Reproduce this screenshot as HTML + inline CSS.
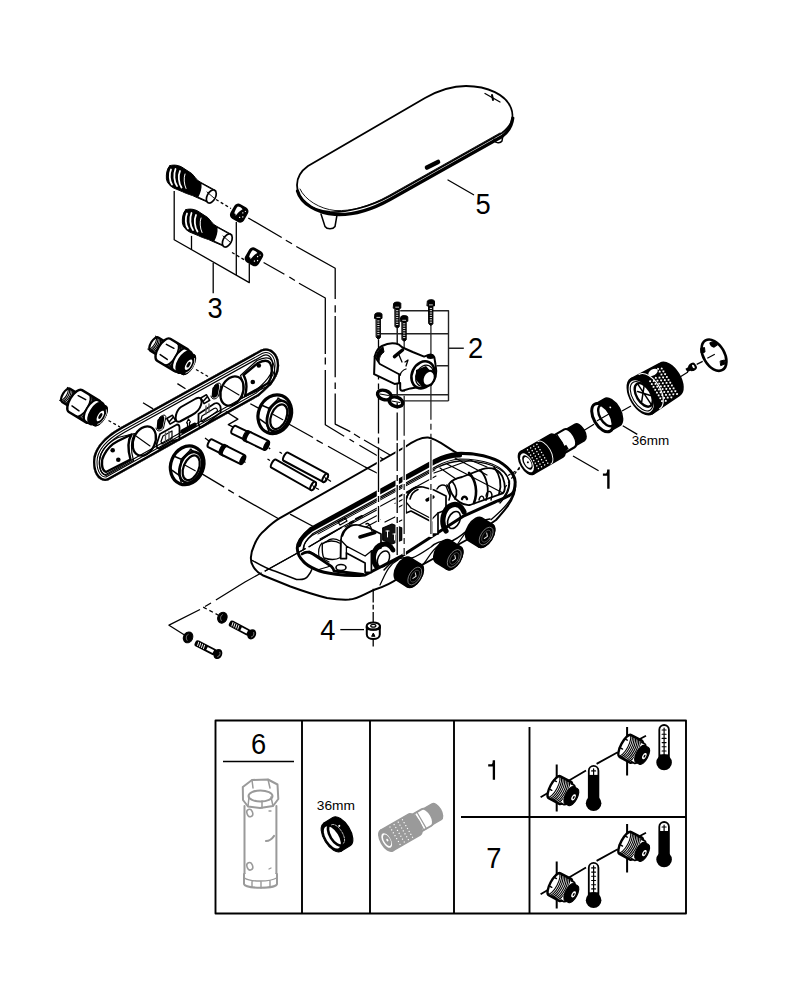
<!DOCTYPE html>
<html><head><meta charset="utf-8">
<style>
html,body{margin:0;padding:0;background:#fff;width:792px;height:1000px;overflow:hidden}
svg{display:block}
text{font-family:"Liberation Sans",sans-serif;fill:#000;stroke:none}
</style></head><body>
<svg width="792" height="1000" viewBox="0 0 792 1000" fill="none" stroke="#000" stroke-linecap="round" stroke-linejoin="round">
<g>
<text transform="translate(483,214) scale(0.91,1)" font-size="30" text-anchor="middle">5</text>
<text transform="translate(215.2,317.5) scale(0.91,1)" font-size="30" text-anchor="middle">3</text>
<text transform="translate(475.6,357.6) scale(0.91,1)" font-size="30" text-anchor="middle">2</text>
<path d="M602.9,474.6 L606.8,474.6 Q608.4,473.5 608.4,469.5 L608.4,488.8" stroke-width="2.4" stroke-linecap="butt" stroke-linejoin="miter"/>
<text transform="translate(327.9,639.6) scale(0.91,1)" font-size="30" text-anchor="middle">4</text>
<text x="631.8" y="444.9" font-size="13.3" textLength="37.4" lengthAdjust="spacingAndGlyphs">36mm</text>
</g>

<g stroke-width="1.9" stroke-linecap="butt">
<rect x="215.5" y="720.5" width="470.5" height="193"/>
<line x1="302" y1="720.5" x2="302" y2="913.5"/>
<line x1="370" y1="720.5" x2="370" y2="913.5"/>
<line x1="454" y1="720.5" x2="454" y2="913.5"/>
<line x1="529.5" y1="727" x2="529.5" y2="913.5"/>
<line x1="461" y1="817" x2="686" y2="817"/>
<line x1="223" y1="761.5" x2="294" y2="761.5" stroke-width="1.3"/>
</g>
<g>
<text transform="translate(258.7,753.5) scale(0.91,1)" font-size="30" text-anchor="middle">6</text>
<path d="M488.2,765.3 L492.3,765.3 Q493.9,764.3 493.9,760.3 L493.9,779.8" stroke-width="2.3" stroke-linecap="butt" stroke-linejoin="miter" fill="none"/>
<text transform="translate(493.8,867.5) scale(0.91,1)" font-size="30" text-anchor="middle">7</text>
<text x="316.8" y="809.8" font-size="13.3" textLength="38.2" lengthAdjust="spacingAndGlyphs">36mm</text>
</g>

<g stroke-width="1.8">
<path d="M321,214 L325,226.5 C327,229.5 333,229.5 335,226.5 L337,215" fill="#fff" stroke-width="1.5"/>
<path d="M494,139 C494,143 500,144 502,141 L503,135" fill="#fff" stroke-width="1.5"/>
<path d="M308,166 L425,98 C440,89.5 455,86 466,86 C488,86 506,95 511,108 C515,118 510,127 502,133 L390,196 C370,207 345,213 330,212 C310,210 297,200 297,185 C297,177 301,171 308,166 Z" fill="#fff"/>
<path d="M297.5,191 C301,204 318,213.5 335,214.5 C352,215.5 372,209.5 390,199.5 L502,136.5 C508,132 512,125 512.8,118" stroke-width="3.2"/>
<path d="M300,189 C305,200 320,209 335,210.5 C352,211.5 370,206 388,196 L500,133" stroke-width="0.9"/>
<path d="M427,167.5 L438,162" stroke-width="4.6"/>
<path d="M485,93.5 L500,102" stroke-width="1.3"/>
<path d="M492,95 L493,100" stroke-width="2"/>
<path d="M448,180 L473.6,194.7" stroke-width="1.3"/>
</g>

<g id="fit3">
<path d="M169.8,165.7 C175,164 180,166 182,167.2 L191.8,173.6 C195,177 196,179 197.9,180.5 L201,182.5 L216,190.7 L210,203.2 L197.5,197.8 L192.6,195.6 C188,194 185,193 182.7,191.8 L173.6,188 C170,186 167,183 166.4,178.9 C166,174 167,168 169.8,165.7 Z" fill="#000" stroke-width="1"/>
<path d="M201.5,184 L215,191.5 C216.5,194 213.5,201.5 210,202 L198.5,196.8 C200.5,193 202,188 201.5,184 Z" fill="#fff" stroke="none"/>
<ellipse cx="211.3" cy="196.5" rx="4.2" ry="7" transform="rotate(28 211.3 196.5)" fill="#fff" stroke-width="1.7"/>
<path d="M207,192 L214,198" stroke-width="0.9"/>
<path d="M171,169.5 C169,174 169.5,181 172,184.5" stroke="#fff" stroke-width="1.8"/>
<path d="M175.5,169 C173.5,174 174,182 177,186" stroke="#fff" stroke-width="1.8"/>
<path d="M180,171 C178,175.5 178.5,183 181.5,187.5" stroke="#fff" stroke-width="1.8"/>
<path d="M185,174 C183.5,178 184,184 186,188.5" stroke="#fff" stroke-width="1"/>
</g>
<use href="#fit3" transform="translate(16,44)"/>
<g id="nut3" transform="translate(239.2,213.1) rotate(30)">
<rect x="-7.8" y="-8.4" width="15.6" height="16.8" rx="4.5" fill="#000" stroke="none"/>
<path d="M-4.5,-5 C-3,-5.8 -0.5,-5.8 1,-5 C-0.5,-2.5 -1.2,0 -1.8,4 C-2.6,2.5 -3.2,1.8 -4,3 C-5,0.5 -5,-3 -4.5,-5 Z" fill="#fff" stroke="none"/>
<circle cx="3" cy="-2" r="0.7" fill="#fff" stroke="none"/>
<circle cx="5" cy="1.5" r="0.7" fill="#fff" stroke="none"/>
<circle cx="2.5" cy="3.5" r="0.7" fill="#fff" stroke="none"/>
<circle cx="4.5" cy="-4.5" r="0.6" fill="#fff" stroke="none"/>
</g>
<use href="#nut3" transform="translate(14.8,43.7)"/>
<g stroke-width="1.3" stroke-linecap="butt">
<path d="M174.2,191 L174.2,239.7 L249.3,282.6 L249.3,263.7"/>
<path d="M191.5,235.9 L191.5,249.5"/>
<path d="M236.3,222 L236.3,275"/>
<path d="M213.2,263 L213.2,293.3"/>
<path d="M216,199.5 L231,208.5" stroke-dasharray="3 2.5"/>
<path d="M232,252.5 L245.5,260.5" stroke-dasharray="3 2.5"/>
<path d="M248.3,218 L281.7,237.5 M285.8,240.3 L292,243.8 M296.3,246.5 L335.2,268.3 L335.2,299 M335.2,305.3 L335.2,312.5 M335.2,316 L335.2,377.2 M335.2,382.6 L335.2,389 M335.2,393.4 L335.2,424.1 L350.3,431.7 M354,434 L360,437.7 M364,440 L390,455"/>
<path d="M263.6,262.5 L284.4,274.3 M289.3,277 L294.9,280.5 M299,283.3 L325.3,298 L325.3,353.9 M325.3,357.4 L325.3,364.6 M325.3,370 L325.3,424.8 L344.2,436.2 M349.5,439.2 L354,442 M359.4,445.3 L383,459"/>
</g>

<defs>
<path id="bpo" d="M121,427 L261,349.5 C268,346.5 276,350 278.5,360 C281,372 276,382 259,396 L108,480.5 C100,483 93,475 93,462 C93,448 105,436 121,427 Z"/>
<clipPath id="bpc"><use href="#bpo"/></clipPath>
</defs>
<use href="#bpo" fill="#fff" stroke="none"/>
<g clip-path="url(#bpc)">
<use href="#bpo" stroke-width="14"/>
<use href="#bpo" stroke="#fff" stroke-width="11.5"/>
<use href="#bpo" stroke-width="9"/>
<use href="#bpo" stroke="#fff" stroke-width="7"/>
<use href="#bpo" stroke-width="4.6"/>
</g>
<g stroke-width="2">
<!-- left D recess -->
<path d="M131.5,434.5 C128,440 127,447 130.5,459.5 L106,472 C101,470 101,460 104,455 C107,449 112,444 118,441 Z" stroke-width="2.4"/>
<path d="M134.5,433.5 C131,440 130,448 133.5,460.5 L106,475.5 C99,474 98,462 101,454 C104,447 111,441 118,437.5 Z" stroke-width="1.2"/>
<circle cx="112.7" cy="450.3" r="2.3" fill="#000" stroke="none"/>
<circle cx="118.3" cy="459.8" r="2.3" fill="#000" stroke="none"/>
<!-- right D recess -->
<path d="M243.5,375 C247,381 247,389 245,396 L268.5,383 C272,377 273,368 270,363 C268,360 264,360 258,363 Z" stroke-width="2.4"/>
<path d="M240.5,375.5 C244,382 244,390 242,398 L270.5,385 C275,379 276,368 272.5,361.5 C270,357 264,357 257,360.5 Z" stroke-width="1.2"/>
<circle cx="258.8" cy="365.5" r="2.3" fill="#000" stroke="none"/>
<circle cx="252.8" cy="382" r="2.3" fill="#000" stroke="none"/>
<!-- oval holes -->
<ellipse cx="144.3" cy="441" rx="10.8" ry="15.3" transform="rotate(24 144.3 441)" stroke-width="2.3"/>
<ellipse cx="232" cy="391" rx="10.8" ry="15.3" transform="rotate(24 232 391)" stroke-width="2.3"/>
<path d="M136,436 L150,446 M224,386 L239,395" stroke-width="1.1"/>
<!-- middle slot -->
<path d="M181,407 L196,398.5 C201,396 202.5,400 201,405 C199.5,410 196,413 192,415 L180,421.5 C176,423 175,419 176,415 C177,411 178,409 181,407 Z" stroke-width="2"/>
<!-- small squares -->
<rect x="168" y="416.5" width="6.5" height="6.5" transform="rotate(-30 171.2 419.7)" stroke-width="1.6"/>
<rect x="202" y="396" width="6.5" height="6.5" transform="rotate(-30 205.2 399.2)" stroke-width="1.6"/>
<path d="M169.5,421.5 L173,417.5 M203.5,401 L207,397" stroke-width="1.5"/>
<!-- slanted slots -->
<path d="M158,420.5 C161,416 164,415 163.5,419 L162,427 C160,430 157,430 157.5,426 Z" fill="#000" stroke-width="1.4"/>
<path d="M159.5,417.5 C163,414 167,414 165.5,419 L163.5,428 C161,432 156.5,432 156,428" stroke-width="1"/>
<path d="M213,388.5 C216,384 219,383 218.5,387 L217,395 C215,398 212,398 212.5,394 Z" fill="#000" stroke-width="1.4"/>
<path d="M214.5,385.5 C218,382 222,382 220.5,387 L218.5,396 C216,400 211.5,400 211,396" stroke-width="1"/>
<!-- lower features -->
<path d="M182.5,431.5 L194.5,425" stroke-width="4.6"/>
<path d="M186.5,423 L188.5,419 L190.5,422 L189.5,422.5 L189.5,426 L187.5,427 L187.5,423 Z" stroke-width="1.2"/>
<path d="M157,443 L160,434 L177,424.5 C179,424.5 179.5,426 179.5,427.5 L179.5,439.5 L172,441 L159.5,448.5 C157,449 156,446 157,443 Z" stroke-width="1.8"/>
<path d="M161,441.5 L163,436 L172,431 L172,438.5 L162,444 Z" stroke-width="1.2"/>
<path d="M165.5,433 L165.5,441 M169,431.5 L169,439" stroke-width="1.3" stroke="#555"/>
<path d="M198.5,414 L214.6,403.5 C218,402 220.7,405 220.7,408.5 L220.7,412.4 L202.5,426.6 C200,427.5 198.5,426 198.5,424 Z" stroke-width="1.8"/>
<path d="M202,416 L214,408.5 C216.5,407.5 217.5,409 217.5,411 L203,421.5 C201.5,422 201,421 201,420 Z" stroke-width="1.2"/>
<path d="M206,406 L206,414 M209,404 L209,412" stroke-width="1.3" stroke="#555"/>
</g>

<g transform="translate(99.5,415.5) rotate(31)">
<path d="M-39,-7.8 L-26,-7.8 A3.51,7.8 0 0 1 -26,7.8 L-39,7.8 A3.51,7.8 0 0 1 -39,-7.8 Z" fill="#fff" stroke-width="2.2"/>
<path d="M-42.0,-7.5 A3.4,7.5 0 0 1 -42.0,7.5" stroke-width="1.1"/>
<path d="M-40.4,-7.5 A3.4,7.5 0 0 1 -40.4,7.5" stroke-width="1.1"/>
<path d="M-38.8,-7.5 A3.4,7.5 0 0 1 -38.8,7.5" stroke-width="1.1"/>
<path d="M-37.2,-7.5 A3.4,7.5 0 0 1 -37.2,7.5" stroke-width="1.1"/>
<path d="M-35.6,-7.5 A3.4,7.5 0 0 1 -35.6,7.5" stroke-width="1.1"/>
<path d="M-34.0,-7.5 A3.4,7.5 0 0 1 -34.0,7.5" stroke-width="1.1"/>
<path d="M-32.4,-7.5 A3.4,7.5 0 0 1 -32.4,7.5" stroke-width="1.1"/>
<path d="M-30.799999999999997,-7.5 A3.4,7.5 0 0 1 -30.799999999999997,7.5" stroke-width="1.1"/>
<path d="M-29.2,-7.5 A3.4,7.5 0 0 1 -29.2,7.5" stroke-width="1.1"/>
<path d="M-28,-12.8 L-8,-12.8 A5.760000000000001,12.8 0 0 1 -8,12.8 L-28,12.8 A5.760000000000001,12.8 0 0 1 -28,-12.8 Z" fill="#fff" stroke-width="2.4"/>
<path d="M-28.5,-6 L-20,-6.5 M-28.5,6 L-20,6.5" stroke-width="1.5"/>
<path d="M-20,-12.6 A5.6,12.6 0 0 1 -20,12.6" stroke-width="1.5"/>
<path d="M-19.0,-12.5 A5.6,12.5 0 0 1 -19.0,12.5" stroke-width="1.05"/>
<path d="M-17.55,-12.5 A5.6,12.5 0 0 1 -17.55,12.5" stroke-width="1.05"/>
<path d="M-16.1,-12.5 A5.6,12.5 0 0 1 -16.1,12.5" stroke-width="1.05"/>
<path d="M-14.65,-12.5 A5.6,12.5 0 0 1 -14.65,12.5" stroke-width="1.05"/>
<path d="M-13.2,-12.5 A5.6,12.5 0 0 1 -13.2,12.5" stroke-width="1.05"/>
<path d="M-11.75,-12.5 A5.6,12.5 0 0 1 -11.75,12.5" stroke-width="1.05"/>
<path d="M-10.3,-12.5 A5.6,12.5 0 0 1 -10.3,12.5" stroke-width="1.05"/>
<path d="M-8.85,-12.5 A5.6,12.5 0 0 1 -8.85,12.5" stroke-width="1.05"/>
<path d="M-9,-12.3 L-4,-12.3 A5.535,12.3 0 0 1 -4,12.3 L-9,12.3 A5.535,12.3 0 0 1 -9,-12.3 Z" fill="#fff" stroke-width="2.0"/>
<path d="M-5,-11.3 L0.5,-11.3 A5.085000000000001,11.3 0 0 1 0.5,11.3 L-5,11.3 A5.085000000000001,11.3 0 0 1 -5,-11.3 Z" fill="#000" stroke-width="1.5"/>
<ellipse cx="0.5" cy="0" rx="5.085000000000001" ry="11.3" fill="#000" stroke-width="1.5"/>
<ellipse cx="1" cy="0" rx="2.6" ry="6" fill="#fff" stroke="none"/>
<ellipse cx="1" cy="0" rx="1.4" ry="3.2" fill="#000" stroke="none"/>
<path d="M3,-8.5 A4,9 0 0 1 3,8.5" stroke="#fff" stroke-width="0.7"/>
</g>
<g transform="translate(187.7,364.2) rotate(31)">
<path d="M-39,-7.8 L-26,-7.8 A3.51,7.8 0 0 1 -26,7.8 L-39,7.8 A3.51,7.8 0 0 1 -39,-7.8 Z" fill="#fff" stroke-width="2.2"/>
<path d="M-42.0,-7.5 A3.4,7.5 0 0 1 -42.0,7.5" stroke-width="1.1"/>
<path d="M-40.4,-7.5 A3.4,7.5 0 0 1 -40.4,7.5" stroke-width="1.1"/>
<path d="M-38.8,-7.5 A3.4,7.5 0 0 1 -38.8,7.5" stroke-width="1.1"/>
<path d="M-37.2,-7.5 A3.4,7.5 0 0 1 -37.2,7.5" stroke-width="1.1"/>
<path d="M-35.6,-7.5 A3.4,7.5 0 0 1 -35.6,7.5" stroke-width="1.1"/>
<path d="M-34.0,-7.5 A3.4,7.5 0 0 1 -34.0,7.5" stroke-width="1.1"/>
<path d="M-32.4,-7.5 A3.4,7.5 0 0 1 -32.4,7.5" stroke-width="1.1"/>
<path d="M-30.799999999999997,-7.5 A3.4,7.5 0 0 1 -30.799999999999997,7.5" stroke-width="1.1"/>
<path d="M-29.2,-7.5 A3.4,7.5 0 0 1 -29.2,7.5" stroke-width="1.1"/>
<path d="M-28,-12.8 L-8,-12.8 A5.760000000000001,12.8 0 0 1 -8,12.8 L-28,12.8 A5.760000000000001,12.8 0 0 1 -28,-12.8 Z" fill="#fff" stroke-width="2.4"/>
<path d="M-28.5,-6 L-20,-6.5 M-28.5,6 L-20,6.5" stroke-width="1.5"/>
<path d="M-20,-12.6 A5.6,12.6 0 0 1 -20,12.6" stroke-width="1.5"/>
<path d="M-19.0,-12.5 A5.6,12.5 0 0 1 -19.0,12.5" stroke-width="1.05"/>
<path d="M-17.55,-12.5 A5.6,12.5 0 0 1 -17.55,12.5" stroke-width="1.05"/>
<path d="M-16.1,-12.5 A5.6,12.5 0 0 1 -16.1,12.5" stroke-width="1.05"/>
<path d="M-14.65,-12.5 A5.6,12.5 0 0 1 -14.65,12.5" stroke-width="1.05"/>
<path d="M-13.2,-12.5 A5.6,12.5 0 0 1 -13.2,12.5" stroke-width="1.05"/>
<path d="M-11.75,-12.5 A5.6,12.5 0 0 1 -11.75,12.5" stroke-width="1.05"/>
<path d="M-10.3,-12.5 A5.6,12.5 0 0 1 -10.3,12.5" stroke-width="1.05"/>
<path d="M-8.85,-12.5 A5.6,12.5 0 0 1 -8.85,12.5" stroke-width="1.05"/>
<path d="M-9,-12.3 L-4,-12.3 A5.535,12.3 0 0 1 -4,12.3 L-9,12.3 A5.535,12.3 0 0 1 -9,-12.3 Z" fill="#fff" stroke-width="2.0"/>
<path d="M-5,-11.3 L0.5,-11.3 A5.085000000000001,11.3 0 0 1 0.5,11.3 L-5,11.3 A5.085000000000001,11.3 0 0 1 -5,-11.3 Z" fill="#000" stroke-width="1.5"/>
<ellipse cx="0.5" cy="0" rx="5.085000000000001" ry="11.3" fill="#000" stroke-width="1.5"/>
<ellipse cx="1" cy="0" rx="2.6" ry="6" fill="#fff" stroke="none"/>
<ellipse cx="1" cy="0" rx="1.4" ry="3.2" fill="#000" stroke="none"/>
<path d="M3,-8.5 A4,9 0 0 1 3,8.5" stroke="#fff" stroke-width="0.7"/>
</g>
<g transform="translate(187.2,465.3)">
<ellipse cx="0" cy="0" rx="16.3" ry="19.8" transform="rotate(22)" fill="#fff" stroke-width="3.2"/>
<path d="M-13,-9 L-6,-6 L4,-16 M-6,-6 L-8,10 L-6,17 M-15,5 L-8,10 M3,-16 L10,-12" stroke-width="1.5"/>
<ellipse cx="3.5" cy="2" rx="10.5" ry="16" transform="rotate(22 3.5 2)" stroke-width="2.6"/>
<ellipse cx="4" cy="2.5" rx="7.6" ry="13" transform="rotate(22 4 2.5)" stroke-width="2.2"/>
<path d="M-2,0 L8,5.5" stroke-width="1.2"/>
</g>
<g transform="translate(274.8,414.2)">
<ellipse cx="0" cy="0" rx="16.3" ry="19.8" transform="rotate(22)" fill="#fff" stroke-width="3.2"/>
<path d="M-13,-9 L-6,-6 L4,-16 M-6,-6 L-8,10 L-6,17 M-15,5 L-8,10 M3,-16 L10,-12" stroke-width="1.5"/>
<ellipse cx="3.5" cy="2" rx="10.5" ry="16" transform="rotate(22 3.5 2)" stroke-width="2.6"/>
<ellipse cx="4" cy="2.5" rx="7.6" ry="13" transform="rotate(22 4 2.5)" stroke-width="2.2"/>
<path d="M-2,0 L8,5.5" stroke-width="1.2"/>
</g>
<g transform="translate(233.8,429.7) rotate(25.85)">
<path d="M0,-4.3 L36.003472054789356,-4.3 A1.8059999999999998,4.3 0 0 1 36.003472054789356,4.3 L0,4.3 A1.8059999999999998,4.3 0 0 1 0,-4.3 Z" fill="#fff" stroke-width="2"/>
<path d="M13.62145826301153,-5.5 L16.62145826301153,-5.5 A2.31,5.5 0 0 1 16.62145826301153,5.5 L13.62145826301153,5.5 A2.31,5.5 0 0 1 13.62145826301153,-5.5 Z" fill="#000" stroke-width="1.2"/>
<path d="M16.62145826301153,-5 L36.003472054789356,-5 A2.1,5 0 0 1 36.003472054789356,5 L16.62145826301153,5 A2.1,5 0 0 1 16.62145826301153,-5 Z" fill="#fff" stroke-width="2"/>
<ellipse cx="36.003472054789356" cy="0" rx="2.3" ry="5" fill="#000" stroke="none"/>
</g>
<g transform="translate(210.1,443.3) rotate(26.64)">
<path d="M0,-4.3 L36.13488619049464,-4.3 A1.8059999999999998,4.3 0 0 1 36.13488619049464,4.3 L0,4.3 A1.8059999999999998,4.3 0 0 1 0,-4.3 Z" fill="#fff" stroke-width="2"/>
<path d="M13.676652200007748,-5.5 L16.676652200007748,-5.5 A2.31,5.5 0 0 1 16.676652200007748,5.5 L13.676652200007748,5.5 A2.31,5.5 0 0 1 13.676652200007748,-5.5 Z" fill="#000" stroke-width="1.2"/>
<path d="M16.676652200007748,-5 L36.13488619049464,-5 A2.1,5 0 0 1 36.13488619049464,5 L16.676652200007748,5 A2.1,5 0 0 1 16.676652200007748,-5 Z" fill="#fff" stroke-width="2"/>
<ellipse cx="36.13488619049464" cy="0" rx="2.3" ry="5" fill="#000" stroke="none"/>
</g>
<g transform="translate(285.8,456.7) rotate(28.28)">
<path d="M0,-4.6 L44.74147963579208,-4.6 A1.9319999999999997,4.6 0 0 1 44.74147963579208,4.6 L0,4.6 A1.9319999999999997,4.6 0 0 1 0,-4.6 Z" fill="#fff" stroke-width="2"/>
<ellipse cx="44.74147963579208" cy="0" rx="2" ry="4.6" fill="#fff" stroke-width="2"/>
<path d="M43.24147963579208,-1 L46.24147963579208,1" stroke-width="1"/>
</g>
<g transform="translate(273.7,463.7) rotate(29.51)">
<path d="M0,-4.6 L45.27306042228649,-4.6 A1.9319999999999997,4.6 0 0 1 45.27306042228649,4.6 L0,4.6 A1.9319999999999997,4.6 0 0 1 0,-4.6 Z" fill="#fff" stroke-width="2"/>
<ellipse cx="45.27306042228649" cy="0" rx="2" ry="4.6" fill="#fff" stroke-width="2"/>
<path d="M43.77306042228649,-1 L46.77306042228649,1" stroke-width="1"/>
</g>
<g stroke-width="1.3" stroke-linecap="butt">
<path d="M108.5,420.5 L120,427" stroke-dasharray="3 2.5"/>
<path d="M196,369.5 L208,376.5" stroke-dasharray="3 2.5"/>
<path d="M225.8,411.5 L237.9,419.1 L228.3,424.6 L233.3,427.2"/>
<path d="M268.7,447.9 L270.2,448.9 M244,461.5 L245.5,462.5 M205,438 L209,441"/>
<path d="M250.3,403.7 L259,408.4 M143,402.8 L153.1,408.9 M177.4,383.6 L185.5,388.7"/>
<path d="M202,473.9 L224.2,487.1 M228.3,489.9 L233.9,493.3 M238.75,496.1 L279,519"/>
<path d="M289.2,424.2 L313,437.5 M316.6,440.1 L322.8,443.5 M328,446.3 L366,467.5"/>
<path d="M279.5,452 L282,453.5 M267.5,459 L270,460.5 M328,479.5 L331,481.5 M316,488 L319,489.5"/>
</g>
<g stroke-linecap="butt">
<path d="M378.5,339.4 L378.5,470" stroke-width="1.3" stroke-dasharray="40 4 6 4"/>
<path d="M397.2,328.6 L397.2,470" stroke-width="1.3" stroke-dasharray="28 4 6 4"/>
<path d="M404.2,341.7 L404.2,470" stroke="#444" stroke-width="1.5" stroke-dasharray="40 4 6 4"/>
<path d="M430.9,325.8 L430.9,470" stroke="#444" stroke-width="1.5" stroke-dasharray="40 4 6 4"/>
</g>

<g stroke-width="1.4" stroke-linecap="butt" stroke="#222">
<path d="M400.2,310.8 L448.5,310.8 L448.5,400.9 M380.9,333.75 L448.5,333.75 M436.6,365.7 L448.5,365.7 M448.5,348.2 L463.8,348.2 M391.7,394.7 L448.5,394.7 M402.5,400.9 L448.5,400.9"/>
</g>
<path d="M374.79999999999995,314.2 C374.79999999999995,312.2 382.0,312.2 382.0,314.2 L382.0,318.4 L374.79999999999995,318.4 Z" fill="#000" stroke-width="1"/>
<path d="M376.4,318.4 L380.4,318.4 L380.4,337.4 L378.4,339.4 L376.4,337.4 Z" fill="#000" stroke-width="1"/>
<path d="M376.9,317.4 L379.9,317.4" stroke="#fff" stroke-width="0.8"/>
<path d="M377.7,320.9 L379.09999999999997,320.9" stroke="#fff" stroke-width="0.9"/>
<path d="M377.7,323.2 L379.09999999999997,323.2" stroke="#fff" stroke-width="0.9"/>
<path d="M377.7,325.5 L379.09999999999997,325.5" stroke="#fff" stroke-width="0.9"/>
<path d="M377.7,327.8 L379.09999999999997,327.8" stroke="#fff" stroke-width="0.9"/>
<path d="M377.7,330.1 L379.09999999999997,330.1" stroke="#fff" stroke-width="0.9"/>
<path d="M377.7,332.40000000000003 L379.09999999999997,332.40000000000003" stroke="#fff" stroke-width="0.9"/>
<path d="M377.7,334.70000000000005 L379.09999999999997,334.70000000000005" stroke="#fff" stroke-width="0.9"/>
<path d="M393.59999999999997,303.5 C393.59999999999997,301.5 400.8,301.5 400.8,303.5 L400.8,308.2 L393.59999999999997,308.2 Z" fill="#000" stroke-width="1"/>
<path d="M395.2,308.2 L399.2,308.2 L399.2,326.6 L397.2,328.6 L395.2,326.6 Z" fill="#000" stroke-width="1"/>
<path d="M395.7,307.2 L398.7,307.2" stroke="#fff" stroke-width="0.8"/>
<path d="M396.5,310.7 L397.9,310.7" stroke="#fff" stroke-width="0.9"/>
<path d="M396.5,313.0 L397.9,313.0" stroke="#fff" stroke-width="0.9"/>
<path d="M396.5,315.3 L397.9,315.3" stroke="#fff" stroke-width="0.9"/>
<path d="M396.5,317.6 L397.9,317.6" stroke="#fff" stroke-width="0.9"/>
<path d="M396.5,319.90000000000003 L397.9,319.90000000000003" stroke="#fff" stroke-width="0.9"/>
<path d="M396.5,322.20000000000005 L397.9,322.20000000000005" stroke="#fff" stroke-width="0.9"/>
<path d="M396.5,324.50000000000006 L397.9,324.50000000000006" stroke="#fff" stroke-width="0.9"/>
<path d="M400.59999999999997,317.1 C400.59999999999997,315.1 407.8,315.1 407.8,317.1 L407.8,321.3 L400.59999999999997,321.3 Z" fill="#000" stroke-width="1"/>
<path d="M402.2,321.3 L406.2,321.3 L406.2,339.7 L404.2,341.7 L402.2,339.7 Z" fill="#000" stroke-width="1"/>
<path d="M402.7,320.3 L405.7,320.3" stroke="#fff" stroke-width="0.8"/>
<path d="M403.5,323.8 L404.9,323.8" stroke="#fff" stroke-width="0.9"/>
<path d="M403.5,326.1 L404.9,326.1" stroke="#fff" stroke-width="0.9"/>
<path d="M403.5,328.40000000000003 L404.9,328.40000000000003" stroke="#fff" stroke-width="0.9"/>
<path d="M403.5,330.70000000000005 L404.9,330.70000000000005" stroke="#fff" stroke-width="0.9"/>
<path d="M403.5,333.00000000000006 L404.9,333.00000000000006" stroke="#fff" stroke-width="0.9"/>
<path d="M403.5,335.30000000000007 L404.9,335.30000000000007" stroke="#fff" stroke-width="0.9"/>
<path d="M403.5,337.6000000000001 L404.9,337.6000000000001" stroke="#fff" stroke-width="0.9"/>
<path d="M427.29999999999995,301.2 C427.29999999999995,299.2 434.5,299.2 434.5,301.2 L434.5,305.9 L427.29999999999995,305.9 Z" fill="#000" stroke-width="1"/>
<path d="M428.9,305.9 L432.9,305.9 L432.9,323.8 L430.9,325.8 L428.9,323.8 Z" fill="#000" stroke-width="1"/>
<path d="M429.4,304.9 L432.4,304.9" stroke="#fff" stroke-width="0.8"/>
<path d="M430.2,308.4 L431.59999999999997,308.4" stroke="#fff" stroke-width="0.9"/>
<path d="M430.2,310.7 L431.59999999999997,310.7" stroke="#fff" stroke-width="0.9"/>
<path d="M430.2,313.0 L431.59999999999997,313.0" stroke="#fff" stroke-width="0.9"/>
<path d="M430.2,315.3 L431.59999999999997,315.3" stroke="#fff" stroke-width="0.9"/>
<path d="M430.2,317.6 L431.59999999999997,317.6" stroke="#fff" stroke-width="0.9"/>
<path d="M430.2,319.90000000000003 L431.59999999999997,319.90000000000003" stroke="#fff" stroke-width="0.9"/>
<path d="M430.2,322.20000000000005 L431.59999999999997,322.20000000000005" stroke="#fff" stroke-width="0.9"/>
<g stroke-width="1.8">
<path d="M374.7,356.6 C376,351 378,348 382,346 C388,343 395,343 399.1,344.7 L402.5,347.5 L412.7,352 L424.1,356.6 L428.6,354.9 C431,354 433,355 434.3,357.2 L435.5,364.5 C437,372 436,380 431,385 L410.5,388.4 L402.5,390.7 C400.5,390.5 400.2,389.5 400.2,388.4 L400.2,383 L394.5,383.9 L374.1,374.2 Z" fill="#fff" stroke-width="2"/>
<path d="M379.8,364 L399.1,374.2 L400.2,374.8 M379.8,364 L374.7,356.6 M399.1,374.2 L399.1,383"/>
<path d="M376,357 C377,352 379,349 383,347 L384,352 C381,354 379,357 379,362 Z" fill="#000" stroke-width="1"/>
<path d="M394.5,356.6 L402.5,350" stroke-width="3.5"/>
<path d="M400.2,374.8 C401,372 403,370 406,369 M405,362 L408,360 L406,366 M399,355 L402,362" stroke-width="1.3"/>
<ellipse cx="423" cy="374.8" rx="11" ry="14" transform="rotate(25 423 374.8)" fill="#fff" stroke-width="2.6"/>
<ellipse cx="424.5" cy="375.8" rx="8.5" ry="11" transform="rotate(25 424.5 375.8)" stroke-width="1.2"/>
<path d="M416,370 L426,366 L433,374 L433,384 L423,388 L416,380 Z" fill="#000" stroke="none" transform="rotate(0)"/>
<ellipse cx="428.7" cy="378.3" rx="5.6" ry="7.8" transform="rotate(25 428.7 378.3)" fill="#fff" stroke-width="2"/>
<ellipse cx="430.5" cy="356.5" rx="4" ry="2.5" fill="#000" stroke="none"/>
</g>
<ellipse cx="384.3" cy="395" rx="7" ry="4.6" transform="rotate(18 384.3 395)" fill="none" stroke-width="3.4"/>
<ellipse cx="396" cy="401.8" rx="7" ry="4.6" transform="rotate(18 396 401.8)" fill="none" stroke-width="3.4"/>
<path d="M380,394 L388.5,395.5 M391.5,401 L400,402.5" stroke-width="1"/>
<g stroke-width="2">
<path d="M279.8,518.2 L405,447 C412,442 420,437 428,437.5 C436,438 446,447 457,453 C470,452 488,456 503,464 C512,470 517,480 514,494 C511,503 505,510 496,520 L470,538 L431,560 L400,577 C392,583 383,587 375,589.5 C366,593 358,599 349,599.6 C340,600 333,599 327,598 C315,595 300,590 290.4,586.5 L263.2,575.5 C258,573 255,570 253,566 C250,562 250,554 254.1,545.5 C257,538 260,534 264.7,530.3 C270,525 275,521 279.8,518.2 Z" fill="#fff"/>
<path d="M252.6,560.6 C262,566 270,570 275.3,571.2 L296.5,579.5 C302,580 306,579 308,576 C311,572 311.7,569.7 311.7,569.7" stroke-width="1.5"/>
<path d="M290.5,514.4 L314.7,527.3 M365.8,467.3 L377,473" stroke-width="1.3"/>
</g>
<path d="M297.3,548.5 C297,543 303,535 310.2,528.8 L434.8,460.3 C443,456 450,454 457.6,453.5 C468,453 476,454 483.3,455.8 C492,458 498,460 503,464.1 C511,470 515,476 515.2,482 C515,488 514,492 512.1,493.6 C508,497 502,499 495,502 L464,515.8 L400.5,556.7 L365,575 C355,576 345,575.5 335.9,574.2 C326,573 320,571.5 316.2,569.7 C310,567 305,563.6 303,561 C300,558 297.5,553 297.3,548.5 Z" fill="#fff" stroke-width="3"/>
<path d="M303,550 C303,545 307,539 313,533.5 L437,466 C446,461 452,459.5 460,459 C472,459 482,460.5 492,464 C502,468 508,474 509,482 C509,490 506,496 499,502" stroke-width="1.2"/>
<path d="M318,534 L435,470" stroke-width="1"/>
<g stroke-width="1.4">
<!-- far rim heavy band -->
<path d="M299,545 C300,540 304,535 311,530 L436,461.5 C444,457.5 452,455.5 460,455.5" stroke-width="4.2"/>
<path d="M304,549 C303,544 306,540 312,535.5 L437,467.5 C446,463 452,461.5 460,461 C472,460.5 482,462 492,465.5 C502,469 508,475 509.5,482.5 C510,490 507,496 500,503" stroke-width="1.3"/>
<path d="M320,539 L436,476" stroke-width="1.1"/>
<!-- back wall hatch -->
<path d="M345,527 L376.8,510 M348,531 L378,515 M351,535 L380,519.5 M395,499 L412,490 M395,503.5 L413,494 M397,508 L414,499" stroke-width="1.1"/>
<path d="M356,519 L362,516 M350,523 L353,521.5" stroke-width="2"/>
<path d="M338,522 L345,518 L347,521 L340,525 Z" stroke-width="1.3"/>
<!-- floor / channel left -->
<path d="M302,554 C306,551 310,552 313,554 L331.4,566.4 C333,568 334,570 334,571 L363,574.5" stroke-width="2.8"/>
<path d="M309,551 L329,562 M318,570 C322,568 326,568 330,566" stroke-width="1.2"/>
<ellipse cx="341" cy="567.5" rx="5" ry="3" stroke-width="1.6"/>
<!-- left saddle boss -->
<path d="M322.3,544 C322,552 322.5,556 324,558 C330,560 336,560 340.5,557.5 L340.5,543.5 C335,540 327,540 322.3,544 Z" fill="#fff" stroke-width="1.4"/>
<path d="M319,557 C318,551 319,546 322,543 M326,542 C330,538 335,538 340,541" stroke-width="1.2"/>
<!-- valve 1 body -->
<path d="M341,540 C341,531 349,524 358,525 L369,528 L381,534 L381,548 L371.4,551 L371.4,572.3 L365.1,572.3 L365.1,563 L346.4,553 L346.4,558.6 L340.7,558.6 Z" fill="#fff" stroke-width="1.7"/>
<path d="M346.4,546.1 L365.1,556 L371.4,551 M346.4,546.1 L346.4,553 M340.7,540 L346.4,546" stroke-width="1.3"/>
<path d="M360,537 L374.8,532.5" stroke-width="3.6"/>
<path d="M344,532 C346,528 349,526 352,525 M342.5,536 C344,531 347,528 350,526.5 M366,524 C368,522 371,526 372,531" stroke-width="1.5"/>
<!-- port ring 1 (C) -->
<path d="M376,566 C371,558 374,547 382,544.5 C387,543 391,546 393,550" stroke-width="5"/>
<ellipse cx="383.5" cy="559" rx="5.5" ry="8.5" transform="rotate(25 383.5 559)" stroke-width="1.5"/>
<!-- center dark valve cluster -->
<path d="M382.7,528 L392,524 L402,528 L402,540 L392,544 L382.7,540 Z" fill="#111" stroke-width="1.2"/>
<path d="M386,531 L389,531 M387.5,531 L387.5,537 M393,534 L396,534 M394.5,534 L394.5,540" stroke="#fff" stroke-width="1"/>
<path d="M385,522 L395,517 M398,522 L402,520" stroke-width="1.2"/>
<!-- valve 2 body -->
<path d="M406,502 C406,493 414,486 423,487 L434,490 L446,496 L446,510 L438,513 L438,534 L432,534 L432,522 L411,511 L406,513 Z" fill="#fff" stroke-width="1.7"/>
<path d="M411,508 L432,519 L438,513 M406,502 L411,508" stroke-width="1.3"/>
<path d="M427,500 L433,497" stroke-width="3.4"/>
<path d="M408,494 C410,490 413,488 416,487 M406.5,498 C408,493 411,490 414,488.5 M410,499 C411,495 414,491 418,489.5" stroke-width="1.6"/>
<path d="M437,489 C439,485 443,484 446,486 L450,496" stroke-width="1.4"/>
<path d="M446,531 C440,523 443,508 452,505 C458,503 462,507 464,512" stroke-width="5.2"/>
<ellipse cx="454" cy="520" rx="5.8" ry="9" transform="rotate(25 454 520)" stroke-width="1.6"/>
<!-- right big cylinder -->
<path d="M449,484 C452,480 457,478 462,477 L482.4,469.2 C492,466 500,470 503,478 C506,486 505,492 502.6,493.4 L470,505 C463,506 455,500 452,494 C450,490 449,487 449,484 Z" fill="#fff" stroke-width="1.8"/>
<path d="M469,473 C476,480 478,492 474,503" stroke-width="2.6"/>
<path d="M480,470 C487,477 490,490 486,500 M494,467 C500,475 502,485 499,494" stroke-width="1.8"/>
<path d="M452,481 C456,486 458,493 455,499 M447,485 C450,489 451,495 449,500" stroke-width="1.6"/>
<path d="M440,468 L456,479 M447,464 L503,493 M455,458 L487,475 M434,473 L470,460 L487,467" stroke-width="1.2"/>
<path d="M486,496 C487,490 491,490 492,495 L491,500 M479,500 C480,495 483,495 484,499" stroke-width="1.4"/>
<path d="M462,499 C463,496 466,496 467,499" stroke-width="2.4"/>
<!-- right end outer curve -->
<path d="M491,519.7 C500,512 508,505 511,498 C515,492 516,486 515.3,483.3" stroke-width="1.3"/>
</g>
<!-- lines crossing housing top -->
<g stroke-width="1.3" stroke-linecap="butt">
<path d="M264.7,571.2 L305.6,548.5 M308.6,547 L342,527.3"/>
</g>
<!-- vertical lines from part 2 going into housing (white halo) -->
<g stroke-linecap="butt">
<path d="M378.5,452 L378.5,522 M397.2,443 L397.2,555 M404.2,440 L404.2,555 M430.9,440 L430.9,537" stroke="#fff" stroke-width="3.4"/>
<path d="M378.5,452 L378.5,522" stroke-width="1.3" stroke-dasharray="40 4 6 4"/>
<path d="M397.2,443 L397.2,555" stroke-width="1.3" stroke-dasharray="28 4 6 4"/>
<path d="M404.2,440 L404.2,555" stroke="#444" stroke-width="1.5" stroke-dasharray="40 4 6 4"/>
<path d="M430.9,440 L430.9,537" stroke="#444" stroke-width="1.5" stroke-dasharray="40 4 6 4"/>
</g>

<g stroke-width="1.5">
<path d="M384,570 C392,560 402,556 412,558 C418,556 425,551 431,547 C436,542 444,540 452,541 C458,538 465,533 470,527 C474,522 482,520 490,519" stroke-width="1.4"/>
<path d="M380,585 C385,575 388,565 398,560 M420,568 C428,560 430,552 438,546 M455,548 C462,538 466,530 475,522" stroke-width="1.2"/>
</g>
<g transform="translate(414.1,575.6) rotate(32)">
<path d="M-12.5,-13.2 L0,-13.2 A7.26,13.2 0 0 1 0,13.2 L-12.5,13.2 A7.26,13.2 0 0 1 -12.5,-13.2 Z" fill="#000" stroke="#000" stroke-width="1.5"/>
<ellipse cx="0" cy="0" rx="7.26" ry="13.2" fill="#000" stroke="#000" stroke-width="1.2"/>
<ellipse cx="0.8" cy="0" rx="5.445" ry="9.899999999999999" fill="none" stroke="#999" stroke-width="0.7"/>
<ellipse cx="1" cy="0" rx="3.63" ry="6.6" fill="none" stroke="#666" stroke-width="0.6"/>
<path d="M-0.5,-3 L2,-0.5 L0.5,3" stroke="#ddd" stroke-width="1"/>
</g>
<g transform="translate(453.6,558.0) rotate(32)">
<path d="M-12.5,-13.2 L0,-13.2 A7.26,13.2 0 0 1 0,13.2 L-12.5,13.2 A7.26,13.2 0 0 1 -12.5,-13.2 Z" fill="#000" stroke="#000" stroke-width="1.5"/>
<ellipse cx="0" cy="0" rx="7.26" ry="13.2" fill="#000" stroke="#000" stroke-width="1.2"/>
<ellipse cx="0.8" cy="0" rx="5.445" ry="9.899999999999999" fill="none" stroke="#999" stroke-width="0.7"/>
<ellipse cx="1" cy="0" rx="3.63" ry="6.6" fill="none" stroke="#666" stroke-width="0.6"/>
<path d="M-0.5,-3 L2,-0.5 L0.5,3" stroke="#ddd" stroke-width="1"/>
</g>
<g transform="translate(485.5,535.7) rotate(32)">
<path d="M-12.5,-13.2 L0,-13.2 A7.26,13.2 0 0 1 0,13.2 L-12.5,13.2 A7.26,13.2 0 0 1 -12.5,-13.2 Z" fill="#000" stroke="#000" stroke-width="1.5"/>
<ellipse cx="0" cy="0" rx="7.26" ry="13.2" fill="#000" stroke="#000" stroke-width="1.2"/>
<ellipse cx="0.8" cy="0" rx="5.445" ry="9.899999999999999" fill="none" stroke="#999" stroke-width="0.7"/>
<ellipse cx="1" cy="0" rx="3.63" ry="6.6" fill="none" stroke="#666" stroke-width="0.6"/>
<path d="M-0.5,-3 L2,-0.5 L0.5,3" stroke="#ddd" stroke-width="1"/>
</g>
<g stroke-width="1.2" stroke-linecap="butt">
<path d="M505,487.5 L520.2,466.3" stroke-dasharray="3 2.5" transform=""/>
<path d="M508,475.5 L520,468.5" stroke-dasharray="3 2.5"/>
<path d="M583.9,430.5 L594,424.2 M622,411 L631,406"/>
<path d="M680,377 L688,372 M696.7,364.4 L702.7,361.4 M707.3,358.3 L714.8,354.2"/>
<path d="M573,456 L598.6,470.8 M622.75,425.7 L637.3,434.4" stroke-width="1.3"/>
</g>
<g transform="translate(527,462.8) rotate(-30)">
<path d="M48,-9.5 L61,-9.5 A4.75,9.5 0 0 1 61,9.5 L48,9.5" fill="#000" stroke="#000" stroke-width="1.5"/>
<path d="M33,-10.3 L49,-10.3 A5.15,10.3 0 0 1 49,10.3 L33,10.3" fill="#fff" stroke="#000" stroke-width="2.2"/>
<path d="M40,-10.3 L40,10.3" stroke-width="1.2"/>
<rect x="36" y="4" width="7" height="5" fill="#000" stroke="none"/>
<path d="M0,-13 L34,-13 A6.5,13 0 0 1 34,13 L0,13" fill="#000" stroke="#000" stroke-width="1.5"/>
<path d="M20,-13 A6.5,13 0 0 1 20,13" stroke="#fff" stroke-width="0.9"/>
<ellipse cx="0" cy="0" rx="6.5" ry="13" fill="#000" stroke-width="1.5"/>
<ellipse cx="0" cy="0" rx="5.25" ry="10.5" fill="#fff" stroke="none"/>
<ellipse cx="0.5" cy="0" rx="4.0" ry="8" fill="#000" stroke="none"/>
<ellipse cx="0.8" cy="0" rx="3.0" ry="6" fill="#fff" stroke="none"/>
<circle cx="1" cy="0" r="1" fill="#000" stroke="none"/>
<circle cx="7.0" cy="-11.0" r="0.75" fill="#fff" stroke="none"/>
<circle cx="7.0" cy="-7.9" r="0.75" fill="#fff" stroke="none"/>
<circle cx="7.0" cy="-4.8" r="0.75" fill="#fff" stroke="none"/>
<circle cx="7.0" cy="-1.6999999999999993" r="0.75" fill="#fff" stroke="none"/>
<circle cx="7.0" cy="1.4000000000000004" r="0.75" fill="#fff" stroke="none"/>
<circle cx="7.0" cy="4.5" r="0.75" fill="#fff" stroke="none"/>
<circle cx="7.0" cy="7.600000000000001" r="0.75" fill="#fff" stroke="none"/>
<circle cx="7.0" cy="10.7" r="0.75" fill="#fff" stroke="none"/>
<circle cx="10.6" cy="-11.0" r="0.75" fill="#fff" stroke="none"/>
<circle cx="10.6" cy="-7.9" r="0.75" fill="#fff" stroke="none"/>
<circle cx="10.6" cy="-4.8" r="0.75" fill="#fff" stroke="none"/>
<circle cx="10.6" cy="-1.6999999999999993" r="0.75" fill="#fff" stroke="none"/>
<circle cx="10.6" cy="1.4000000000000004" r="0.75" fill="#fff" stroke="none"/>
<circle cx="10.6" cy="4.5" r="0.75" fill="#fff" stroke="none"/>
<circle cx="10.6" cy="7.600000000000001" r="0.75" fill="#fff" stroke="none"/>
<circle cx="10.6" cy="10.7" r="0.75" fill="#fff" stroke="none"/>
<circle cx="14.2" cy="-11.0" r="0.75" fill="#fff" stroke="none"/>
<circle cx="14.2" cy="-7.9" r="0.75" fill="#fff" stroke="none"/>
<circle cx="14.2" cy="-4.8" r="0.75" fill="#fff" stroke="none"/>
<circle cx="14.2" cy="-1.6999999999999993" r="0.75" fill="#fff" stroke="none"/>
<circle cx="14.2" cy="1.4000000000000004" r="0.75" fill="#fff" stroke="none"/>
<circle cx="14.2" cy="4.5" r="0.75" fill="#fff" stroke="none"/>
<circle cx="14.2" cy="7.600000000000001" r="0.75" fill="#fff" stroke="none"/>
<circle cx="14.2" cy="10.7" r="0.75" fill="#fff" stroke="none"/>
<circle cx="17.8" cy="-11.0" r="0.75" fill="#fff" stroke="none"/>
<circle cx="17.8" cy="-7.9" r="0.75" fill="#fff" stroke="none"/>
<circle cx="17.8" cy="-4.8" r="0.75" fill="#fff" stroke="none"/>
<circle cx="17.8" cy="-1.6999999999999993" r="0.75" fill="#fff" stroke="none"/>
<circle cx="17.8" cy="1.4000000000000004" r="0.75" fill="#fff" stroke="none"/>
<circle cx="17.8" cy="4.5" r="0.75" fill="#fff" stroke="none"/>
<circle cx="17.8" cy="7.600000000000001" r="0.75" fill="#fff" stroke="none"/>
<circle cx="17.8" cy="10.7" r="0.75" fill="#fff" stroke="none"/>
</g>
<g transform="translate(602.4,417.7) rotate(-30)">
<path d="M0,-15.5 L11,-15.5 A8.525,15.5 0 0 1 11,15.5 L0,15.5" fill="#000" stroke="#000" stroke-width="1.5"/>
<ellipse cx="0" cy="0" rx="8.525" ry="15.5" fill="#fff" stroke-width="3"/>
<ellipse cx="4.5" cy="0" rx="6.490000000000001" ry="11.8" fill="none" stroke-width="2.4"/>
<path d="M-6,0 L10,0" stroke-width="1.1"/>
<circle cx="12" cy="-5" r="0.9" fill="#fff" stroke="none"/>
</g>
<g transform="translate(641.6,396.2) rotate(-31)">
<path d="M0,-20.5 L33,-18.8 A10.340000000000002,18.8 0 0 1 33,18.8 L0,20.5" fill="#000" stroke-width="1.5"/>
<ellipse cx="0" cy="0" rx="11.275" ry="20.5" fill="#000" stroke-width="1.5"/>
<ellipse cx="-0.5" cy="0" rx="9.9" ry="18" fill="#fff" stroke="none"/>
<ellipse cx="0" cy="0" rx="8.965000000000002" ry="16.3" fill="none" stroke-width="1.1"/>
<ellipse cx="2.5" cy="0" rx="7.15" ry="13" fill="#fff" stroke-width="2.4"/>
<path d="M-1,-6 L8,4 M-3,5 L7,-7 M3,-12 L4,12" stroke-width="1.5"/>
<path d="M9,-20 A11.0,20 0 0 1 9,20" stroke="#fff" stroke-width="1.1"/>
<ellipse cx="22" cy="-14.5" rx="5.2" ry="3" fill="#fff" stroke="none"/>
<rect x="14.1" y="-9.3" width="1.8" height="1.8" transform="rotate(45 15.0 -8.4)" fill="#fff" stroke="none"/>
<rect x="14.1" y="-6.000000000000002" width="1.8" height="1.8" transform="rotate(45 15.0 -5.100000000000001)" fill="#fff" stroke="none"/>
<rect x="14.1" y="-2.7000000000000006" width="1.8" height="1.8" transform="rotate(45 15.0 -1.8000000000000007)" fill="#fff" stroke="none"/>
<rect x="14.1" y="0.6" width="1.8" height="1.8" transform="rotate(45 15.0 1.5)" fill="#fff" stroke="none"/>
<rect x="14.1" y="3.8999999999999972" width="1.8" height="1.8" transform="rotate(45 15.0 4.799999999999997)" fill="#fff" stroke="none"/>
<rect x="14.1" y="7.1999999999999975" width="1.8" height="1.8" transform="rotate(45 15.0 8.099999999999998)" fill="#fff" stroke="none"/>
<rect x="14.1" y="10.499999999999998" width="1.8" height="1.8" transform="rotate(45 15.0 11.399999999999999)" fill="#fff" stroke="none"/>
<rect x="14.1" y="13.799999999999999" width="1.8" height="1.8" transform="rotate(45 15.0 14.7)" fill="#fff" stroke="none"/>
<rect x="17.400000000000002" y="-7.65" width="1.8" height="1.8" transform="rotate(45 18.3 -6.75)" fill="#fff" stroke="none"/>
<rect x="17.400000000000002" y="-4.350000000000001" width="1.8" height="1.8" transform="rotate(45 18.3 -3.4500000000000015)" fill="#fff" stroke="none"/>
<rect x="17.400000000000002" y="-1.0500000000000007" width="1.8" height="1.8" transform="rotate(45 18.3 -0.1500000000000008)" fill="#fff" stroke="none"/>
<rect x="17.400000000000002" y="2.25" width="1.8" height="1.8" transform="rotate(45 18.3 3.15)" fill="#fff" stroke="none"/>
<rect x="17.400000000000002" y="5.549999999999997" width="1.8" height="1.8" transform="rotate(45 18.3 6.4499999999999975)" fill="#fff" stroke="none"/>
<rect x="17.400000000000002" y="8.849999999999998" width="1.8" height="1.8" transform="rotate(45 18.3 9.749999999999998)" fill="#fff" stroke="none"/>
<rect x="17.400000000000002" y="12.149999999999999" width="1.8" height="1.8" transform="rotate(45 18.3 13.049999999999999)" fill="#fff" stroke="none"/>
<rect x="17.400000000000002" y="15.449999999999998" width="1.8" height="1.8" transform="rotate(45 18.3 16.349999999999998)" fill="#fff" stroke="none"/>
<rect x="20.700000000000003" y="-9.3" width="1.8" height="1.8" transform="rotate(45 21.6 -8.4)" fill="#fff" stroke="none"/>
<rect x="20.700000000000003" y="-6.000000000000002" width="1.8" height="1.8" transform="rotate(45 21.6 -5.100000000000001)" fill="#fff" stroke="none"/>
<rect x="20.700000000000003" y="-2.7000000000000006" width="1.8" height="1.8" transform="rotate(45 21.6 -1.8000000000000007)" fill="#fff" stroke="none"/>
<rect x="20.700000000000003" y="0.6" width="1.8" height="1.8" transform="rotate(45 21.6 1.5)" fill="#fff" stroke="none"/>
<rect x="20.700000000000003" y="3.8999999999999972" width="1.8" height="1.8" transform="rotate(45 21.6 4.799999999999997)" fill="#fff" stroke="none"/>
<rect x="20.700000000000003" y="7.1999999999999975" width="1.8" height="1.8" transform="rotate(45 21.6 8.099999999999998)" fill="#fff" stroke="none"/>
<rect x="20.700000000000003" y="10.499999999999998" width="1.8" height="1.8" transform="rotate(45 21.6 11.399999999999999)" fill="#fff" stroke="none"/>
<rect x="20.700000000000003" y="13.799999999999999" width="1.8" height="1.8" transform="rotate(45 21.6 14.7)" fill="#fff" stroke="none"/>
<rect x="24.0" y="-7.65" width="1.8" height="1.8" transform="rotate(45 24.9 -6.75)" fill="#fff" stroke="none"/>
<rect x="24.0" y="-4.350000000000001" width="1.8" height="1.8" transform="rotate(45 24.9 -3.4500000000000015)" fill="#fff" stroke="none"/>
<rect x="24.0" y="-1.0500000000000007" width="1.8" height="1.8" transform="rotate(45 24.9 -0.1500000000000008)" fill="#fff" stroke="none"/>
<rect x="24.0" y="2.25" width="1.8" height="1.8" transform="rotate(45 24.9 3.15)" fill="#fff" stroke="none"/>
<rect x="24.0" y="5.549999999999997" width="1.8" height="1.8" transform="rotate(45 24.9 6.4499999999999975)" fill="#fff" stroke="none"/>
<rect x="24.0" y="8.849999999999998" width="1.8" height="1.8" transform="rotate(45 24.9 9.749999999999998)" fill="#fff" stroke="none"/>
<rect x="24.0" y="12.149999999999999" width="1.8" height="1.8" transform="rotate(45 24.9 13.049999999999999)" fill="#fff" stroke="none"/>
<rect x="24.0" y="15.449999999999998" width="1.8" height="1.8" transform="rotate(45 24.9 16.349999999999998)" fill="#fff" stroke="none"/>
<rect x="27.3" y="-15.9" width="1.8" height="1.8" transform="rotate(45 28.2 -15.0)" fill="#fff" stroke="none"/>
<rect x="27.3" y="-12.6" width="1.8" height="1.8" transform="rotate(45 28.2 -11.7)" fill="#fff" stroke="none"/>
<rect x="27.3" y="-9.3" width="1.8" height="1.8" transform="rotate(45 28.2 -8.4)" fill="#fff" stroke="none"/>
<rect x="27.3" y="-6.000000000000002" width="1.8" height="1.8" transform="rotate(45 28.2 -5.100000000000001)" fill="#fff" stroke="none"/>
<rect x="27.3" y="-2.7000000000000006" width="1.8" height="1.8" transform="rotate(45 28.2 -1.8000000000000007)" fill="#fff" stroke="none"/>
<rect x="27.3" y="0.6" width="1.8" height="1.8" transform="rotate(45 28.2 1.5)" fill="#fff" stroke="none"/>
<rect x="27.3" y="3.8999999999999972" width="1.8" height="1.8" transform="rotate(45 28.2 4.799999999999997)" fill="#fff" stroke="none"/>
<rect x="27.3" y="7.1999999999999975" width="1.8" height="1.8" transform="rotate(45 28.2 8.099999999999998)" fill="#fff" stroke="none"/>
<rect x="27.3" y="10.499999999999998" width="1.8" height="1.8" transform="rotate(45 28.2 11.399999999999999)" fill="#fff" stroke="none"/>
<rect x="27.3" y="13.799999999999999" width="1.8" height="1.8" transform="rotate(45 28.2 14.7)" fill="#fff" stroke="none"/>
<rect x="30.6" y="-14.25" width="1.8" height="1.8" transform="rotate(45 31.5 -13.35)" fill="#fff" stroke="none"/>
<rect x="30.6" y="-10.95" width="1.8" height="1.8" transform="rotate(45 31.5 -10.049999999999999)" fill="#fff" stroke="none"/>
<rect x="30.6" y="-7.65" width="1.8" height="1.8" transform="rotate(45 31.5 -6.75)" fill="#fff" stroke="none"/>
<rect x="30.6" y="-4.350000000000001" width="1.8" height="1.8" transform="rotate(45 31.5 -3.4500000000000015)" fill="#fff" stroke="none"/>
<rect x="30.6" y="-1.0500000000000007" width="1.8" height="1.8" transform="rotate(45 31.5 -0.1500000000000008)" fill="#fff" stroke="none"/>
<rect x="30.6" y="2.25" width="1.8" height="1.8" transform="rotate(45 31.5 3.15)" fill="#fff" stroke="none"/>
<rect x="30.6" y="5.549999999999997" width="1.8" height="1.8" transform="rotate(45 31.5 6.4499999999999975)" fill="#fff" stroke="none"/>
<rect x="30.6" y="8.849999999999998" width="1.8" height="1.8" transform="rotate(45 31.5 9.749999999999998)" fill="#fff" stroke="none"/>
<rect x="30.6" y="12.149999999999999" width="1.8" height="1.8" transform="rotate(45 31.5 13.049999999999999)" fill="#fff" stroke="none"/>
<rect x="30.6" y="15.449999999999998" width="1.8" height="1.8" transform="rotate(45 31.5 16.349999999999998)" fill="#fff" stroke="none"/>
</g>
<g transform="translate(692.5,367) rotate(-30)"><rect x="-3" y="-4" width="7" height="8" rx="3" fill="#000" stroke="none"/><ellipse cx="-2" cy="0" rx="1.5" ry="3" fill="#000" stroke="#000"/><ellipse cx="1" cy="0" rx="1" ry="2" fill="#fff" stroke="none"/><rect x="-7" y="-2" width="4" height="4" fill="#000" stroke="none"/></g>
<ellipse cx="714" cy="355.2" rx="10.5" ry="17" transform="rotate(-30 714 355.2)" fill="none" stroke-width="2.6"/>
<path d="M710,343 C713,341 716,342 717,345 L714,347 C712,346.5 710.5,345 710,343 Z" fill="#000" stroke-width="1.3"/>
<path d="M701,348.5 L704.5,347.5 L705,352 L701.5,353 Z" fill="#000" stroke-width="1"/>
<path d="M720.5,361 L724.5,360 L725,364 L721,365.5 Z" fill="#000" stroke-width="1"/>
<g stroke-width="1.3" stroke-linecap="butt">
<path d="M342,527.3 L308.6,547 M305.6,548.5 L264.7,571.2 M261.7,572.7 L245,582 L215.9,600 M211,603 L205,606.5 M200,609.5 L169,625.2 L184.5,635" />
<path d="M203.2,607.1 L218.4,615.2" stroke-dasharray="4 3"/>
<path d="M373.2,588.8 L373.2,602.4 M373.2,604.8 L373.2,609.6 M373.2,612 L373.2,622 M373.2,639 L373.2,646.4"/>
<path d="M340.3,629.6 L364,629.6"/>
</g>
<ellipse cx="222.4" cy="617.7" rx="4.6" ry="5.6" transform="rotate(25 222.4 617.7)" fill="#000" stroke-width="1"/>
<path d="M221.4,620.7 C219.9,618.7 220.4,615.7 222.4,614.7" stroke="#aaa" stroke-width="0.7"/>
<g transform="translate(229.5,622.7) rotate(27.59)">
<rect x="0" y="-3.4" width="23.04795400826178" height="6.8" rx="2.5" fill="#000" stroke="none"/>
<path d="M3.0,-1.8 L3.6,1.8" stroke="#fff" stroke-width="0.9"/>
<path d="M5.2,-1.8 L5.800000000000001,1.8" stroke="#fff" stroke-width="0.9"/>
<path d="M7.4,-1.8 L8.0,1.8" stroke="#fff" stroke-width="0.9"/>
<path d="M9.600000000000001,-1.8 L10.200000000000001,1.8" stroke="#fff" stroke-width="0.9"/>
<rect x="13.024936084296126" y="-1.6" width="7.013427122313299" height="3.2" fill="#fff" stroke="none"/>
<ellipse cx="25.04795400826178" cy="0" rx="4.2" ry="5.3" fill="#000" stroke="none"/>
<path d="M26.04795400826178,-2.5 C27.54795400826178,-1 27.54795400826178,1 26.04795400826178,2.5" stroke="#bbb" stroke-width="0.6"/>
</g>
<ellipse cx="188.1" cy="637.4" rx="4.6" ry="5.6" transform="rotate(25 188.1 637.4)" fill="#000" stroke-width="1"/>
<path d="M187.1,640.4 C185.6,638.4 186.1,635.4 188.1,634.4" stroke="#aaa" stroke-width="0.7"/>
<g transform="translate(195.2,642.4) rotate(27.07)">
<rect x="0" y="-3.4" width="23.492155656201405" height="6.8" rx="2.5" fill="#000" stroke="none"/>
<path d="M3.0,-1.8 L3.6,1.8" stroke="#fff" stroke-width="0.9"/>
<path d="M5.2,-1.8 L5.800000000000001,1.8" stroke="#fff" stroke-width="0.9"/>
<path d="M7.4,-1.8 L8.0,1.8" stroke="#fff" stroke-width="0.9"/>
<path d="M9.600000000000001,-1.8 L10.200000000000001,1.8" stroke="#fff" stroke-width="0.9"/>
<rect x="13.255920941224732" y="-1.6" width="7.137803583736394" height="3.2" fill="#fff" stroke="none"/>
<ellipse cx="25.492155656201405" cy="0" rx="4.2" ry="5.3" fill="#000" stroke="none"/>
<path d="M26.492155656201405,-2.5 C27.992155656201405,-1 27.992155656201405,1 26.492155656201405,2.5" stroke="#bbb" stroke-width="0.6"/>
</g>
<g stroke-width="2">
<path d="M366.8,626 L366.8,634.5 C366.8,640.5 379.8,640.5 379.8,634.5 L379.8,626" fill="#fff" stroke-width="2"/>
<ellipse cx="373.3" cy="626" rx="6.6" ry="3.6" fill="#fff" stroke-width="2"/>
<path d="M366.8,627.5 C367,630.5 379.6,630.5 379.8,627.5" stroke-width="2.2"/>
<ellipse cx="373.3" cy="625.8" rx="2.6" ry="1.4" stroke-width="1.2"/>
<path d="M371.8,636 L373.3,633 L374.8,636 Z" fill="#000" stroke-width="1"/>
</g>
<g stroke="#9a9a9a" stroke-width="2" fill="none">
<path d="M244.5,806 L244.5,873 C244.5,880 276.4,880 276.4,873 L276.4,806"/>
<path d="M242.8,787 L252,780 L268,779.5 L277.5,784.5 L278.3,799 L273,806 L260,808 L248,806.5 L243,800 Z" fill="#fff"/>
<ellipse cx="260.5" cy="796" rx="12" ry="5.5"/>
<path d="M252,780 L253,788 M268,779.5 L270,788 M248,806.5 L249,797 M273,806 L271,797 M262,808 L262,801" stroke-width="1.5"/>
<path d="M244,874 L244,884 C245,889 276,889 277,884 L277,874" fill="#fff"/>
<path d="M244.5,878 C250,882 270,882 276.5,878 M252,881 L252,887 M261,882 L261,888 M270,881 L270,887" stroke-width="1.4"/>
<ellipse cx="249.8" cy="813" rx="2.8" ry="3.8" transform="rotate(-20 249.8 813)" stroke-width="1.6"/>
<ellipse cx="249.8" cy="866.3" rx="2.8" ry="3.8" transform="rotate(-20 249.8 866.3)" stroke-width="1.6"/>
<path d="M266,841 C269,841 272,839 274,836" stroke-width="2.2"/>
<path d="M269,811 L271,811 M269,869 L271,868" stroke-width="1.3"/>
</g>
<g transform="translate(332.3,837.3) rotate(-32)">
<path d="M0,-16.5 L11,-16.5 A8.25,16.5 0 0 1 11,16.5 L0,16.5" fill="#000" stroke-width="1.2"/>
<ellipse cx="0" cy="0" rx="8.25" ry="16.5" fill="#000" stroke-width="1"/>
<ellipse cx="0" cy="0" rx="6.25" ry="12.5" fill="#fff" stroke="none"/>
<ellipse cx="4.5" cy="0" rx="6.0" ry="12" fill="none" stroke-width="2.6"/>
<path d="M6,-11 A5,11 0 0 1 6,11" stroke="#fff" stroke-width="0.7" stroke-dasharray="2 1.5"/>
<circle cx="12" cy="-6" r="1" fill="#fff" stroke="none"/>
</g>
<g transform="translate(386.7,840.5) rotate(-30) scale(0.96)">
<path d="M47,-9.5 L60,-9.5 A4.75,9.5 0 0 1 60,9.5 L47,9.5" fill="#9a9a9a" stroke="#9a9a9a" stroke-width="1.5"/>
<path d="M32,-10 L48,-10 A5.0,10 0 0 1 48,10 L32,10" fill="#fff" stroke="#9a9a9a" stroke-width="2"/>
<path d="M39,-10 L39,10 M42,-10 L42,10" stroke="#9a9a9a" stroke-width="1.2"/>
<path d="M0,-12.5 L33,-12.5 A6.25,12.5 0 0 1 33,12.5 L0,12.5" fill="#9a9a9a" stroke="#9a9a9a" stroke-width="1.5"/>
<ellipse cx="0" cy="0" rx="6.25" ry="12.5" fill="#9a9a9a" stroke="#9a9a9a" stroke-width="1.5"/>
<ellipse cx="0" cy="0" rx="4.25" ry="8.5" fill="#fff" stroke="none"/>
<ellipse cx="0.5" cy="0" rx="3.25" ry="6.5" fill="#9a9a9a" stroke="none"/>
<ellipse cx="0.8" cy="0" rx="1" ry="1.5" fill="#fff" stroke="none"/>
<circle cx="10" cy="-10.5" r="0.7" fill="#fff" stroke="none"/>
<circle cx="10" cy="-7.0" r="0.7" fill="#fff" stroke="none"/>
<circle cx="10" cy="-3.5" r="0.7" fill="#fff" stroke="none"/>
<circle cx="10" cy="0.0" r="0.7" fill="#fff" stroke="none"/>
<circle cx="10" cy="3.5" r="0.7" fill="#fff" stroke="none"/>
<circle cx="10" cy="7.0" r="0.7" fill="#fff" stroke="none"/>
<circle cx="10" cy="10.5" r="0.7" fill="#fff" stroke="none"/>
<circle cx="15" cy="-10.5" r="0.7" fill="#fff" stroke="none"/>
<circle cx="15" cy="-7.0" r="0.7" fill="#fff" stroke="none"/>
<circle cx="15" cy="-3.5" r="0.7" fill="#fff" stroke="none"/>
<circle cx="15" cy="0.0" r="0.7" fill="#fff" stroke="none"/>
<circle cx="15" cy="3.5" r="0.7" fill="#fff" stroke="none"/>
<circle cx="15" cy="7.0" r="0.7" fill="#fff" stroke="none"/>
<circle cx="15" cy="10.5" r="0.7" fill="#fff" stroke="none"/>
<circle cx="20" cy="-10.5" r="0.7" fill="#fff" stroke="none"/>
<circle cx="20" cy="-7.0" r="0.7" fill="#fff" stroke="none"/>
<circle cx="20" cy="-3.5" r="0.7" fill="#fff" stroke="none"/>
<circle cx="20" cy="0.0" r="0.7" fill="#fff" stroke="none"/>
<circle cx="20" cy="3.5" r="0.7" fill="#fff" stroke="none"/>
<circle cx="20" cy="7.0" r="0.7" fill="#fff" stroke="none"/>
<circle cx="20" cy="10.5" r="0.7" fill="#fff" stroke="none"/>
<circle cx="25" cy="-10.5" r="0.7" fill="#fff" stroke="none"/>
<circle cx="25" cy="-7.0" r="0.7" fill="#fff" stroke="none"/>
<circle cx="25" cy="-3.5" r="0.7" fill="#fff" stroke="none"/>
<circle cx="25" cy="0.0" r="0.7" fill="#fff" stroke="none"/>
<circle cx="25" cy="3.5" r="0.7" fill="#fff" stroke="none"/>
<circle cx="25" cy="7.0" r="0.7" fill="#fff" stroke="none"/>
<circle cx="25" cy="10.5" r="0.7" fill="#fff" stroke="none"/>
</g>
<g stroke-width="2" stroke-linecap="butt">
<path d="M556.7,764.4 L556.7,811.4 M627.1,727.1 L627.1,775.6"/>
<path d="M540.6,797.2 L586,770.5 M596.6,763.9 L617.7,752.3 M639.4,739.2 L646,735.7" stroke-width="1.8"/>
</g>
<g transform="translate(562.5,791.5) rotate(28)">
<path d="M-9,-12.5 L3,-12.5 A4.4,12.5 0 0 1 3,12.5 L-9,12.5 A4.4,12.5 0 0 1 -9,-12.5 Z" fill="#fff" stroke-width="2.4"/>
<path d="M-10.5,-12 A4.2,12 0 0 1 -10.5,12" stroke-width="1.1"/>
<path d="M-8.7,-12 A4.2,12 0 0 1 -8.7,12" stroke-width="1.1"/>
<path d="M-6.9,-12 A4.2,12 0 0 1 -6.9,12" stroke-width="1.1"/>
<path d="M-5.1,-12 A4.2,12 0 0 1 -5.1,12" stroke-width="1.1"/>
<path d="M-3.3,-12 A4.2,12 0 0 1 -3.3,12" stroke-width="1.1"/>
<path d="M-1.5,-12 A4.2,12 0 0 1 -1.5,12" stroke-width="1.1"/>
<path d="M0.3000000000000007,-12 A4.2,12 0 0 1 0.3000000000000007,12" stroke-width="1.1"/>
<path d="M-13,-6 L-10,-6 M-13.5,4 L-10,4" stroke-width="1.4"/>
<path d="M4,-11 L7,-11 A4,11 0 0 1 7,11 L4,11" fill="#fff" stroke-width="1.8"/>
<path d="M8,-9.5 L12,-9.5 A4,9.5 0 0 1 12,9.5 L8,9.5 A4,9.5 0 0 1 8,-9.5 Z" fill="#000" stroke-width="1.2"/>
<ellipse cx="12.5" cy="0" rx="1.8" ry="3.4" fill="#fff" stroke="none"/>
<ellipse cx="12.7" cy="0" rx="0.8" ry="1.6" fill="#000" stroke="none"/>
</g>
<g transform="translate(633.3,750.2) rotate(28)">
<path d="M-9,-12.5 L3,-12.5 A4.4,12.5 0 0 1 3,12.5 L-9,12.5 A4.4,12.5 0 0 1 -9,-12.5 Z" fill="#fff" stroke-width="2.4"/>
<path d="M-10.5,-12 A4.2,12 0 0 1 -10.5,12" stroke-width="1.1"/>
<path d="M-8.7,-12 A4.2,12 0 0 1 -8.7,12" stroke-width="1.1"/>
<path d="M-6.9,-12 A4.2,12 0 0 1 -6.9,12" stroke-width="1.1"/>
<path d="M-5.1,-12 A4.2,12 0 0 1 -5.1,12" stroke-width="1.1"/>
<path d="M-3.3,-12 A4.2,12 0 0 1 -3.3,12" stroke-width="1.1"/>
<path d="M-1.5,-12 A4.2,12 0 0 1 -1.5,12" stroke-width="1.1"/>
<path d="M0.3000000000000007,-12 A4.2,12 0 0 1 0.3000000000000007,12" stroke-width="1.1"/>
<path d="M-13,-6 L-10,-6 M-13.5,4 L-10,4" stroke-width="1.4"/>
<path d="M4,-11 L7,-11 A4,11 0 0 1 7,11 L4,11" fill="#fff" stroke-width="1.8"/>
<path d="M8,-9.5 L12,-9.5 A4,9.5 0 0 1 12,9.5 L8,9.5 A4,9.5 0 0 1 8,-9.5 Z" fill="#000" stroke-width="1.2"/>
<ellipse cx="12.5" cy="0" rx="1.8" ry="3.4" fill="#fff" stroke="none"/>
<ellipse cx="12.7" cy="0" rx="0.8" ry="1.6" fill="#000" stroke="none"/>
</g>
<path d="M588.8000000000001,770.6999999999999 A4.8,4.8 0 0 1 598.4,770.6999999999999 L598.4,799.3 L588.8000000000001,799.3 Z" fill="#fff" stroke-width="1.8"/>
<rect x="588.8000000000001" y="774.9" width="9.6" height="28.399999999999977" fill="#000" stroke="none"/>
<path d="M593.6,768.9 L593.6,774.9 M591.6,770.9 L595.6,770.9" stroke-width="1.2"/>
<circle cx="593.6" cy="803.3" r="7.8" fill="#000" stroke="none"/>
<path d="M659.3000000000001,729.8 A4.8,4.8 0 0 1 668.9,729.8 L668.9,758.4 L659.3000000000001,758.4 Z" fill="#fff" stroke-width="1.8"/>
<path d="M664.1,728 L664.1,757.4" stroke-width="1.2"/>
<path d="M662.1,730 L666.1,730" stroke-width="1.1"/>
<path d="M662.1,734.2 L666.1,734.2" stroke-width="1.1"/>
<path d="M662.1,738.4000000000001 L666.1,738.4000000000001" stroke-width="1.1"/>
<path d="M662.1,742.6000000000001 L666.1,742.6000000000001" stroke-width="1.1"/>
<path d="M662.1,746.8000000000002 L666.1,746.8000000000002" stroke-width="1.1"/>
<path d="M662.1,751.0000000000002 L666.1,751.0000000000002" stroke-width="1.1"/>
<path d="M662.1,755.2000000000003 L666.1,755.2000000000003" stroke-width="1.1"/>
<rect x="659.3000000000001" y="754.4" width="9.6" height="5" fill="#000" stroke="none"/>
<circle cx="664.1" cy="762.4" r="7.8" fill="#000" stroke="none"/>
<g stroke-width="2" stroke-linecap="butt">
<path d="M556.7,861.4 L556.7,908.4 M627.1,824.1 L627.1,872.6"/>
<path d="M540.6,894.2 L586,867.5 M596.6,860.9 L617.7,849.3 M639.4,836.2 L646,832.7" stroke-width="1.8"/>
</g>
<g transform="translate(562.5,888.5) rotate(28)">
<path d="M-9,-12.5 L3,-12.5 A4.4,12.5 0 0 1 3,12.5 L-9,12.5 A4.4,12.5 0 0 1 -9,-12.5 Z" fill="#fff" stroke-width="2.4"/>
<path d="M-10.5,-12 A4.2,12 0 0 1 -10.5,12" stroke-width="1.1"/>
<path d="M-8.7,-12 A4.2,12 0 0 1 -8.7,12" stroke-width="1.1"/>
<path d="M-6.9,-12 A4.2,12 0 0 1 -6.9,12" stroke-width="1.1"/>
<path d="M-5.1,-12 A4.2,12 0 0 1 -5.1,12" stroke-width="1.1"/>
<path d="M-3.3,-12 A4.2,12 0 0 1 -3.3,12" stroke-width="1.1"/>
<path d="M-1.5,-12 A4.2,12 0 0 1 -1.5,12" stroke-width="1.1"/>
<path d="M0.3000000000000007,-12 A4.2,12 0 0 1 0.3000000000000007,12" stroke-width="1.1"/>
<path d="M-13,-6 L-10,-6 M-13.5,4 L-10,4" stroke-width="1.4"/>
<path d="M4,-11 L7,-11 A4,11 0 0 1 7,11 L4,11" fill="#fff" stroke-width="1.8"/>
<path d="M8,-9.5 L12,-9.5 A4,9.5 0 0 1 12,9.5 L8,9.5 A4,9.5 0 0 1 8,-9.5 Z" fill="#000" stroke-width="1.2"/>
<ellipse cx="12.5" cy="0" rx="1.8" ry="3.4" fill="#fff" stroke="none"/>
<ellipse cx="12.7" cy="0" rx="0.8" ry="1.6" fill="#000" stroke="none"/>
</g>
<g transform="translate(633.3,847.2) rotate(28)">
<path d="M-9,-12.5 L3,-12.5 A4.4,12.5 0 0 1 3,12.5 L-9,12.5 A4.4,12.5 0 0 1 -9,-12.5 Z" fill="#fff" stroke-width="2.4"/>
<path d="M-10.5,-12 A4.2,12 0 0 1 -10.5,12" stroke-width="1.1"/>
<path d="M-8.7,-12 A4.2,12 0 0 1 -8.7,12" stroke-width="1.1"/>
<path d="M-6.9,-12 A4.2,12 0 0 1 -6.9,12" stroke-width="1.1"/>
<path d="M-5.1,-12 A4.2,12 0 0 1 -5.1,12" stroke-width="1.1"/>
<path d="M-3.3,-12 A4.2,12 0 0 1 -3.3,12" stroke-width="1.1"/>
<path d="M-1.5,-12 A4.2,12 0 0 1 -1.5,12" stroke-width="1.1"/>
<path d="M0.3000000000000007,-12 A4.2,12 0 0 1 0.3000000000000007,12" stroke-width="1.1"/>
<path d="M-13,-6 L-10,-6 M-13.5,4 L-10,4" stroke-width="1.4"/>
<path d="M4,-11 L7,-11 A4,11 0 0 1 7,11 L4,11" fill="#fff" stroke-width="1.8"/>
<path d="M8,-9.5 L12,-9.5 A4,9.5 0 0 1 12,9.5 L8,9.5 A4,9.5 0 0 1 8,-9.5 Z" fill="#000" stroke-width="1.2"/>
<ellipse cx="12.5" cy="0" rx="1.8" ry="3.4" fill="#fff" stroke="none"/>
<ellipse cx="12.7" cy="0" rx="0.8" ry="1.6" fill="#000" stroke="none"/>
</g>
<path d="M588.8000000000001,867.6999999999999 A4.8,4.8 0 0 1 598.4,867.6999999999999 L598.4,896.3 L588.8000000000001,896.3 Z" fill="#fff" stroke-width="1.8"/>
<path d="M593.6,865.9 L593.6,895.3" stroke-width="1.2"/>
<path d="M591.6,867.9 L595.6,867.9" stroke-width="1.1"/>
<path d="M591.6,872.1 L595.6,872.1" stroke-width="1.1"/>
<path d="M591.6,876.3000000000001 L595.6,876.3000000000001" stroke-width="1.1"/>
<path d="M591.6,880.5000000000001 L595.6,880.5000000000001" stroke-width="1.1"/>
<path d="M591.6,884.7000000000002 L595.6,884.7000000000002" stroke-width="1.1"/>
<path d="M591.6,888.9000000000002 L595.6,888.9000000000002" stroke-width="1.1"/>
<path d="M591.6,893.1000000000003 L595.6,893.1000000000003" stroke-width="1.1"/>
<rect x="588.8000000000001" y="892.3" width="9.6" height="5" fill="#000" stroke="none"/>
<circle cx="593.6" cy="900.3" r="7.8" fill="#000" stroke="none"/>
<path d="M659.3000000000001,826.8 A4.8,4.8 0 0 1 668.9,826.8 L668.9,855.4 L659.3000000000001,855.4 Z" fill="#fff" stroke-width="1.8"/>
<rect x="659.3000000000001" y="831" width="9.6" height="28.399999999999977" fill="#000" stroke="none"/>
<path d="M664.1,825 L664.1,831 M662.1,827 L666.1,827" stroke-width="1.2"/>
<circle cx="664.1" cy="859.4" r="7.8" fill="#000" stroke="none"/>
</svg>
</body></html>
